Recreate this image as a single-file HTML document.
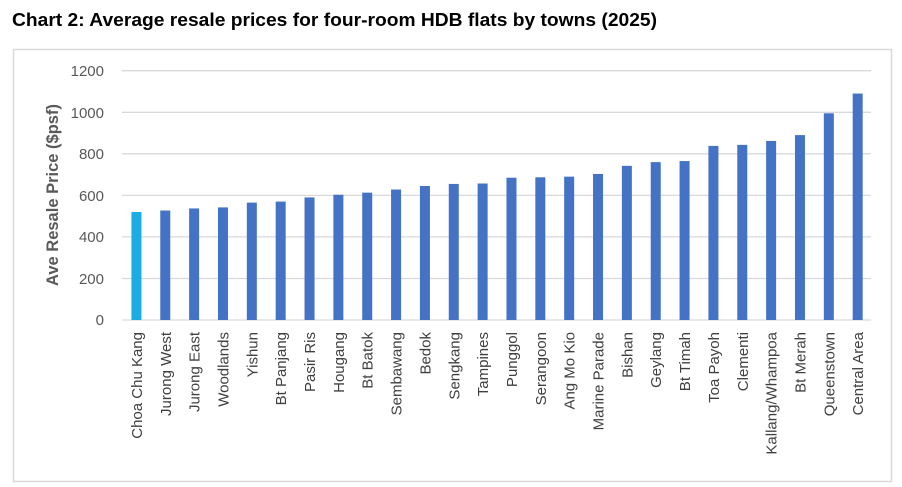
<!DOCTYPE html>
<html><head><meta charset="utf-8"><style>
html,body{margin:0;padding:0;background:#fff;width:902px;height:487px;overflow:hidden}
svg{display:block;font-family:"Liberation Sans",sans-serif}
</style></head><body>
<svg width="902" height="487" viewBox="0 0 902 487" xmlns="http://www.w3.org/2000/svg">
<text x="12" y="26" font-size="18.5" font-weight="bold" fill="#000" textLength="645" lengthAdjust="spacingAndGlyphs">Chart 2: Average resale prices for four-room HDB flats by towns (2025)</text>
<rect x="13.5" y="49.5" width="878" height="432" fill="#fff" stroke="#d9d9d9" stroke-width="1.5"/>
<g stroke="#d9d9d9" stroke-width="1.3">
<line x1="122" x2="871" y1="70.7" y2="70.7"/>
<line x1="122" x2="871" y1="112.3" y2="112.3"/>
<line x1="122" x2="871" y1="153.8" y2="153.8"/>
<line x1="122" x2="871" y1="195.4" y2="195.4"/>
<line x1="122" x2="871" y1="236.9" y2="236.9"/>
<line x1="122" x2="871" y1="278.5" y2="278.5"/>
<line x1="122" x2="871" y1="320" y2="320"/>
</g>
<g font-size="15" fill="#595959" text-anchor="end">
<text x="104" y="76">1200</text><text x="104" y="118">1000</text><text x="104" y="159">800</text><text x="104" y="201">600</text><text x="104" y="242">400</text><text x="104" y="284">200</text><text x="104" y="325">0</text>
</g>
<text transform="translate(58,195) rotate(-90)" text-anchor="middle" font-size="16.5" font-weight="bold" fill="#595959">Ave Resale Price ($psf)</text>
<g id="bars"></g>
<g id="labels" font-size="15" fill="#404040" text-anchor="end"></g>
<script>
var d=[["Choa Chu Kang",520],["Jurong West",527],["Jurong East",537],["Woodlands",542],["Yishun",565],["Bt Panjang",570],["Pasir Ris",590],["Hougang",603],["Bt Batok",613],["Sembawang",628],["Bedok",645],["Sengkang",655],["Tampines",657],["Punggol",685],["Serangoon",687],["Ang Mo Kio",690],["Marine Parade",703],["Bishan",742],["Geylang",760],["Bt Timah",765],["Toa Payoh",838],["Clementi",843],["Kallang/Whampoa",862],["Bt Merah",890],["Queenstown",995],["Central Area",1090]];
var ns="http://www.w3.org/2000/svg",b=document.getElementById("bars"),l=document.getElementById("labels");
d.forEach(function(e,i){var c=122+28.85*(i+0.5),h=e[1]*0.20775;
var r=document.createElementNS(ns,"rect");r.setAttribute("x",c-5);r.setAttribute("width",10);r.setAttribute("y",320-h);r.setAttribute("height",h);r.setAttribute("fill",i==0?"#1aace3":"#4472c4");b.appendChild(r);
var t=document.createElementNS(ns,"text");t.setAttribute("transform","translate("+(c+5.5)+",332) rotate(-90)");t.textContent=e[0];l.appendChild(t);});
</script>
</svg>
</body></html>
